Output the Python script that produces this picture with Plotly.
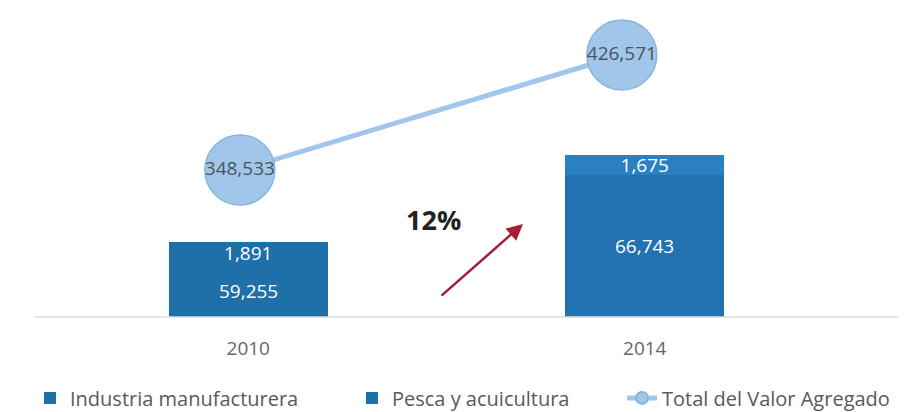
import plotly.graph_objects as go

# Valor agregado (millones) por año
years = ["2010", "2014"]
industria = [59255, 66743]
pesca = [1891, 1675]
total_va = [348533, 426571]
growth_label = "12%"

bar_colors = ["#1f6fa8", "#2272b2"]
pesca_colors = ["#1f6fa8", "#2b80c2"]
circle_fill = "#a2c6e9"
circle_edge = "#86b5df"
font_family = "'Open Sans', sans-serif"

# Eje de barras truncado en su parte inferior
bar_axis_range = [54877, 80546]
line_axis_range = [248783, 457106]
# Eje x propio de la serie total (ligeramente desplazado respecto a las barras)
line_x_range = [-0.497, 1.579]

legend_font = dict(size=20, color="#595959", family=font_family)

fig = go.Figure()

fig.add_trace(go.Bar(
    x=years, y=industria, name="Industria manufacturera",
    marker=dict(color=bar_colors, line=dict(width=0)),
    width=0.4, legend="legend",
))
fig.add_trace(go.Bar(
    x=years, y=pesca, name="Pesca y acuicultura",
    marker=dict(color=pesca_colors, line=dict(width=0)),
    text=[f"{v:,}" for v in pesca], textposition="inside",
    insidetextanchor="middle", constraintext="none",
    textfont=dict(color="white", size=19, family=font_family),
    width=0.4, legend="legend2",
))
fig.add_trace(go.Scatter(
    x=years, y=total_va, name="Total del Valor Agregado",
    xaxis="x2", yaxis="y2",
    mode="lines+markers+text",
    line=dict(color=circle_fill, width=5),
    marker=dict(size=70, color=circle_fill, line=dict(color=circle_edge, width=1.5)),
    text=[f"{v:,}" for v in total_va], textposition="middle center",
    textfont=dict(color="#4a5560", size=19, family=font_family),
    legend="legend3",
))

# Etiquetas de la industria, centradas en la parte visible de cada barra
for i, v in enumerate(industria):
    fig.add_annotation(
        x=i, y=(bar_axis_range[0] + v) / 2, xref="x", yref="y",
        text=f"{v:,}", showarrow=False,
        font=dict(color="white", size=19, family=font_family),
    )

# Crecimiento entre ambos años
fig.add_annotation(
    xref="paper", yref="paper", x=0.5965, y=0.303,
    ax=-83, ay=73, axref="pixel", ayref="pixel",
    showarrow=True, arrowhead=2, arrowsize=1.3, arrowwidth=2.5,
    arrowcolor="#a31f34", text="",
)
fig.add_annotation(
    xref="paper", yref="paper", x=0.483, y=0.319,
    xanchor="center", yanchor="middle",
    text=f"<b>{growth_label}</b>", showarrow=False,
    font=dict(size=27, color="#222222", family=font_family),
)

# Línea base
fig.add_shape(
    type="line", xref="paper", yref="paper",
    x0=-0.019, x1=1.07, y0=0, y1=0,
    line=dict(color="#dcdcdc", width=1.5),
)

legend_common = dict(orientation="h", xanchor="left", y=-0.2, yanchor="top",
                     font=legend_font, itemsizing="constant",
                     bgcolor="rgba(0,0,0,0)")

fig.update_layout(
    width=905, height=412,
    margin=dict(l=50, r=62, t=10, b=95, autoexpand=False),
    paper_bgcolor="white", plot_bgcolor="white",
    barmode="stack",
    font=dict(family=font_family, color="#595959"),
    xaxis=dict(
        type="category", range=[-0.5, 1.5], showgrid=False, zeroline=False,
        showline=False, ticks="", ticklabelstandoff=18,
        tickfont=dict(size=19, color="#666666"),
    ),
    xaxis2=dict(type="category", range=line_x_range, overlaying="x",
                visible=False, showgrid=False),
    yaxis=dict(range=bar_axis_range, visible=False, showgrid=False),
    yaxis2=dict(range=line_axis_range, overlaying="y", side="right",
                visible=False, showgrid=False),
    showlegend=True,
    legend=dict(x=-0.0252, **legend_common),
    legend2=dict(x=0.3808, **legend_common),
    legend3=dict(x=0.7213, **legend_common),
)

fig.write_html("out.html")
